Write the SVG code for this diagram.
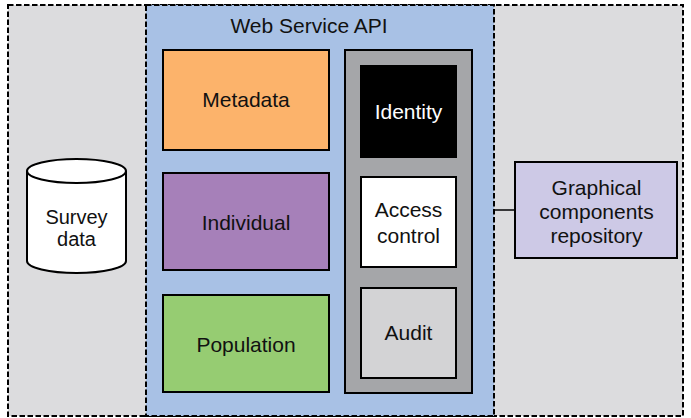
<svg xmlns="http://www.w3.org/2000/svg" width="691" height="418" viewBox="0 0 691 418">
<style>
text{font-family:"Liberation Sans",Arial,sans-serif;font-size:21px;fill:#111;text-anchor:middle}
.sm{font-size:20px}
.box{stroke:#000;stroke-width:2}
.dash{stroke:#000;stroke-width:2;stroke-dasharray:5.5 2.5}
</style>
<rect width="691" height="418" fill="#ffffff"/>
<g id="outer"><rect x="8" y="5" width="675" height="411" fill="#dcdcde" class="dash"/></g>
<g id="webservice">
<rect x="146" y="5" width="348" height="411" fill="#a8c1e5" class="dash"/>
<text x="309" y="33">Web Service API</text>
</g>
<g id="metadata"><rect x="163" y="50" width="166" height="100" fill="#fcb36b" class="box"/><text x="246" y="107">Metadata</text></g>
<g id="individual"><rect x="163" y="173" width="166" height="97" fill="#a680b9" class="box"/><text x="246" y="230">Individual</text></g>
<g id="population"><rect x="163" y="295" width="166" height="97" fill="#96cc72" class="box"/><text x="246" y="352">Population</text></g>
<g id="security"><rect x="345" y="50" width="127" height="343" fill="#a5a6a9" class="box"/></g>
<g id="identity"><rect x="361" y="66" width="95" height="91" fill="#000" class="box"/><text x="408.5" y="119" style="fill:#fff">Identity</text></g>
<g id="access"><rect x="361" y="177" width="95" height="90" fill="#fff" class="box"/><text x="408.5" y="217">Access</text><text x="408.5" y="243">control</text></g>
<g id="audit"><rect x="361" y="288" width="95" height="90" fill="#d3d3d5" class="box"/><text x="408.5" y="340">Audit</text></g>
<g id="survey">
<path d="M27,171 V261 A49.5,12 0 0 0 126,261 V171" fill="#fff" stroke="#000" stroke-width="2"/>
<ellipse cx="76.5" cy="171" rx="49.5" ry="12" fill="#fff" stroke="#000" stroke-width="2"/>
<text x="76.5" y="224" class="sm">Survey</text><text x="76.5" y="246" class="sm">data</text>
</g>
<g id="connectors"><line x1="494" y1="210" x2="515" y2="210" stroke="#000" stroke-width="1.5"/></g>
<g id="repository"><rect x="515" y="162" width="162" height="96" fill="#cdc9e6" class="box"/><text x="596.5" y="195">Graphical</text><text x="596.5" y="219">components</text><text x="596.5" y="243">repository</text></g>
</svg>
